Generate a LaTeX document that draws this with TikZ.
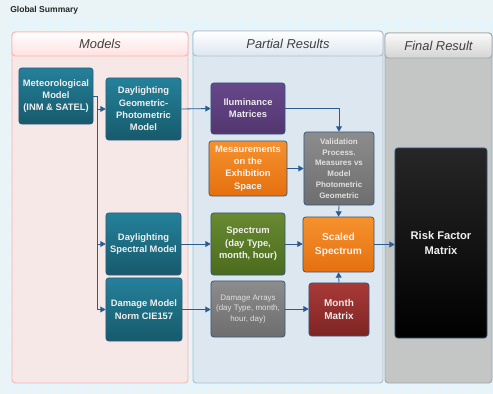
\documentclass[tikz,border=0pt]{standalone}
\usepackage{fontspec}
\setmainfont{Liberation Sans}
\usetikzlibrary{arrows.meta}
\definecolor{linkblue}{HTML}{2B5C8F}
\definecolor{edgeblue}{HTML}{35597F}
\definecolor{tealtop}{HTML}{24819A}
\definecolor{tealbot}{HTML}{175A6B}
\definecolor{purptop}{HTML}{67488A}
\definecolor{purpbot}{HTML}{52366F}
\definecolor{greentop}{HTML}{688A30}
\definecolor{greenbot}{HTML}{4C6B1E}
\definecolor{redtop}{HTML}{A83A37}
\definecolor{redbot}{HTML}{7E2424}
\definecolor{orgtop}{HTML}{F5922E}
\definecolor{orgbot}{HTML}{E5700F}
\definecolor{bluelane}{HTML}{DCE6F0}
\definecolor{pinklane}{HTML}{F9E7E7}
\definecolor{graylane}{HTML}{C3C3C3}
\definecolor{backcol}{HTML}{EAF4F7}
\begin{document}
\begin{tikzpicture}[x=0.03cm, y=-0.03cm,
	every node/.style={rectangle, rounded corners=0.08cm, draw=edgeblue, line width=0.6pt, text=white, align=center, font=\fontsize{8}{10.5}\selectfont\bfseries},
	modelo/.style={top color=tealtop, bottom color=tealbot, text=black!6},
	purpura/.style={top color=purptop, bottom color=purpbot, text=black!8},
	naranja/.style={top color=orgtop, bottom color=orgbot, text=black!4},
	gris/.style={top color=black!45, bottom color=black!57, text=black!12},
	verde/.style={top color=greentop, bottom color=greenbot, text=black!6},
	rojo/.style={top color=redtop, bottom color=redbot, text=black!8},
	wire/.style={draw=linkblue, line width=0.7pt, rounded corners=0pt},
	link/.style={wire, -{Triangle[width=5pt,length=4.5pt]}},
	lane/.style={rounded corners=0.1cm, line width=0.8pt},
	title/.style={draw=none, text=black!75, font=\fontsize{11}{13}\selectfont\itshape}]
	\useasboundingbox (0,0) rectangle (493,394);
	% fondo
	\fill[backcol] (0,0) rectangle (493,394);
	\draw[cyan!12!white, line width=0.3pt, step=0.36cm] (6,18) grid (493,394);
	\node[draw=none, text=black!85, font=\fontsize{7.3}{9}\selectfont\bfseries, anchor=west] at (6,10) {Global Summary};
	% carriles
	\draw[lane, draw=red!30, fill=pinklane, fill opacity=0.92] (12,32) rectangle (188,383);
	\draw[lane, draw=red!30, top color=white, bottom color=red!12] (12,32) rectangle (188,56);
	\draw[lane, draw=edgeblue!40, fill=bluelane, fill opacity=0.92] (193,31) rectangle (383,383);
	\draw[lane, draw=edgeblue!40, top color=white, bottom color=bluelane] (193,31) rectangle (383,56);
	\draw[lane, draw=black!35, fill=graylane, fill opacity=0.95] (385,33) rectangle (492,383);
	\draw[lane, draw=black!35, top color=black!2, bottom color=black!17] (385,33) rectangle (492,58);
	\node[title] at (100,44) {Models};
	\node[title] at (288,43.5) {Partial Results};
	\node[title] at (438.5,45.5) {Final Result};
	% modelos
	\node[modelo, minimum width=2.22cm, minimum height=1.68cm] (met) at (56,96) {Meteorological\\Model\\(INM \& SATEL)};
	\node[modelo, minimum width=2.25cm, minimum height=1.86cm] (geo) at (143.5,109) {Daylighting\\Geometric-\\Photometric\\Model};
	\node[modelo, minimum width=2.25cm, minimum height=1.86cm] (spm) at (143.5,244) {Daylighting\\Spectral Model};
	\node[modelo, minimum width=2.28cm, minimum height=1.89cm] (dmg) at (144,309.5) {Damage Model\\Norm CIE157};
	% resultados parciales
	\node[purpura, minimum width=2.22cm, minimum height=1.53cm] (ilu) at (248,108.5) {Iluminance\\Matrices};
	\node[naranja, minimum width=2.34cm, minimum height=1.65cm] (mes) at (248,168.5) {Mesaurements\\on the\\Exhibition\\Space};
	\node[gris, minimum width=2.1cm, minimum height=2.19cm, font=\fontsize{6.8}{9.3}\selectfont\bfseries] (val) at (339,168.5) {Validation\\Process.\\Measures vs\\Model\\Photometric\\Geometric};
	\node[verde, minimum width=2.22cm, minimum height=1.86cm] (spe) at (248,244) {Spectrum\\(day Type,\\month, hour)};
	\node[gris, minimum width=2.22cm, minimum height=1.68cm, font=\fontsize{6.8}{9}\selectfont] (arr) at (248,309) {Damage Arrays\\(day Type, month,\\hour, day)};
	\node[naranja, minimum width=2.13cm, minimum height=1.65cm, font=\fontsize{8.7}{12}\selectfont\bfseries] (sca) at (338.5,244.5) {Scaled\\Spectrum};
	\node[rojo, minimum width=1.8cm, minimum height=1.59cm, font=\fontsize{8.5}{11.5}\selectfont\bfseries] (mon) at (339,309.5) {Month\\Matrix};
	% resultado final
	\node[top color=black!85, bottom color=black, minimum width=2.76cm, minimum height=5.7cm, font=\fontsize{9.5}{13}\selectfont\bfseries, text=black!6] (risk) at (441,243) {Risk Factor\\Matrix};
	% conexiones
	\coordinate (split) at (97,96);
	\draw[wire] (met.east) -- (split);
	\draw[link] (split) |- (geo.west);
	\draw[link] (split) |- (spm.west);
	\draw[link] (split) |- (dmg.west);
	\draw[link] (geo.east) -- (ilu.west);
	\draw[link] (ilu.east) -| (val.north);
	\draw[link] (mes.east) -- (mes.east -| val.west);
	\draw[link] (val.south) -- (sca.north);
	\draw[link] (spm.east) -- (spe.west);
	\draw[link] (spe.east) -- (spe.east -| sca.west);
	\draw[link] (dmg.east) -- (dmg.east -| arr.west);
	\draw[link] (arr.east) -- (arr.east -| mon.west);
	\draw[link] (mon.north) -- (sca.south);
	\draw[link] (sca.east) -- (sca.east -| risk.west);
\end{tikzpicture}
\end{document}
